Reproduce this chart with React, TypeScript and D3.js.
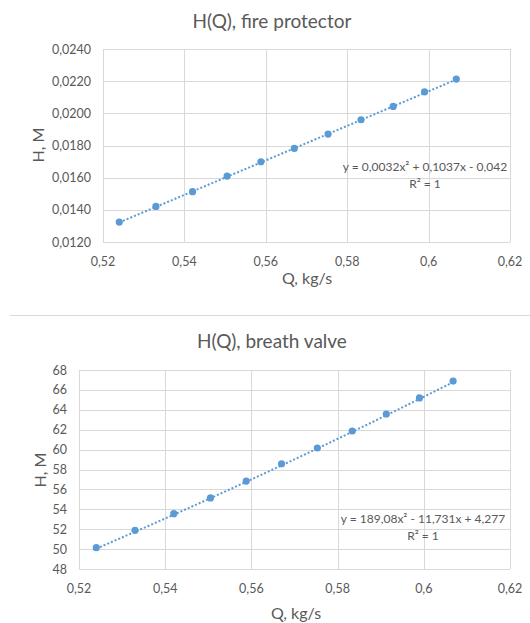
import * as d3 from 'd3'
import { useEffect, useRef } from 'react'

// Flow rate, kg/s (shared by both charts)
const flowRates = [0.524, 0.533, 0.542, 0.5505, 0.5588, 0.567, 0.5753, 0.5834, 0.5913, 0.599, 0.6068]
// Head, m
const fireProtectorHead = [0.01324, 0.01421, 0.01513, 0.0161, 0.01699, 0.01782, 0.01871, 0.0196, 0.02043, 0.02133, 0.02213]
const breathValveHead = [50.14, 51.89, 53.56, 55.14, 56.84, 58.58, 60.16, 61.87, 63.58, 65.19, 66.89]
// polynomial trendline coefficients [a, b, c] for a*x^2 + b*x + c
const fireProtectorFit = [0.0032, 0.1037, -0.042]
const breathValveFit = [189.08, -11.731, 4.277]

const xTicks = [0.52, 0.54, 0.56, 0.58, 0.6, 0.62]
const fireTicks = [0.012, 0.014, 0.016, 0.018, 0.02, 0.022, 0.024]
const breathTicks = [48, 50, 52, 54, 56, 58, 60, 62, 64, 66, 68]

const BLUE = '#5b9bd5'
const GRID = '#d9d9d9'
const TEXT = '#595959'
const FONT = 'Lato, "Open Sans", sans-serif'

interface ChartCfg {
  title: string
  titleY: number
  left: number
  right: number
  top: number
  bottom: number
  heads: number[]
  fit: number[]
  yTicks: number[]
  yFormat: (v: number) => string
  equation: string
  eqX: number
  eqY: number
  xTitleX: number
  xTitleY: number
  yTitleX: number
  yTitleY: number
}

const comma = (s: string) => s.replace('.', ',')

function drawChart(root: d3.Selection<SVGSVGElement, unknown, null, undefined>, c: ChartCfg) {
  const g = root.append('g').attr('font-family', FONT)

  const x = d3.scaleLinear().domain([xTicks[0], xTicks[xTicks.length - 1]]).range([c.left, c.right])
  const y = d3
    .scaleLinear()
    .domain([c.yTicks[0], c.yTicks[c.yTicks.length - 1]])
    .range([c.bottom, c.top])

  // title
  g.append('text')
    .attr('x', 272)
    .attr('y', c.titleY)
    .attr('text-anchor', 'middle')
    .attr('dominant-baseline', 'central')
    .attr('font-size', 19)
    .attr('fill', TEXT)
    .text(c.title)

  // grid
  g.selectAll('.hgrid')
    .data(c.yTicks)
    .enter()
    .append('line')
    .attr('x1', c.left)
    .attr('x2', c.right)
    .attr('y1', (d) => Math.round(y(d)) + 0.5)
    .attr('y2', (d) => Math.round(y(d)) + 0.5)
    .attr('stroke', GRID)
  g.selectAll('.vgrid')
    .data(xTicks)
    .enter()
    .append('line')
    .attr('y1', c.top)
    .attr('y2', c.bottom)
    .attr('x1', (d) => Math.round(x(d)) + 0.5)
    .attr('x2', (d) => Math.round(x(d)) + 0.5)
    .attr('stroke', GRID)

  // tick labels
  g.selectAll('.xl')
    .data(xTicks)
    .enter()
    .append('text')
    .attr('x', (d) => x(d))
    .attr('y', c.bottom + 19)
    .attr('text-anchor', 'middle')
    .attr('dominant-baseline', 'central')
    .attr('font-size', 12.5)
    .attr('fill', TEXT)
    .text((d) => comma(String(d)))
  g.selectAll('.yl')
    .data(c.yTicks)
    .enter()
    .append('text')
    .attr('x', c.left - 12)
    .attr('y', (d) => y(d))
    .attr('text-anchor', 'end')
    .attr('dominant-baseline', 'central')
    .attr('font-size', 12.5)
    .attr('fill', TEXT)
    .text((d) => c.yFormat(d))

  // axis titles
  g.append('text')
    .attr('x', c.xTitleX)
    .attr('y', c.xTitleY)
    .attr('text-anchor', 'middle')
    .attr('dominant-baseline', 'central')
    .attr('font-size', 16)
    .attr('fill', TEXT)
    .text('Q, kg/s')
  g.append('text')
    .attr('transform', `translate(${c.yTitleX},${c.yTitleY}) rotate(-90)`)
    .attr('text-anchor', 'middle')
    .attr('dominant-baseline', 'central')
    .attr('font-size', 16)
    .attr('fill', TEXT)
    .text('H, М')

  // trendline
  const fitted = flowRates.map((q) => ({ q, h: c.fit[0] * q * q + c.fit[1] * q + c.fit[2] }))
  const line = d3
    .line<{ q: number; h: number }>()
    .x((d) => x(d.q))
    .y((d) => y(d.h))
    .curve(d3.curveMonotoneX)
  g.append('path')
    .datum(fitted)
    .attr('d', line)
    .attr('fill', 'none')
    .attr('stroke', BLUE)
    .attr('stroke-width', 2)
    .attr('stroke-dasharray', '2 2')

  // points
  g.selectAll('.pt')
    .data(flowRates)
    .enter()
    .append('circle')
    .attr('cx', (d) => x(d))
    .attr('cy', (d, i) => y(c.heads[i]))
    .attr('r', 3.6)
    .attr('fill', BLUE)

  // equation
  g.append('text')
    .attr('x', c.eqX)
    .attr('y', c.eqY)
    .attr('text-anchor', 'middle')
    .attr('dominant-baseline', 'central')
    .attr('font-size', 12)
    .attr('fill', TEXT)
    .text(c.equation)
  g.append('text')
    .attr('x', c.eqX)
    .attr('y', c.eqY + 17)
    .attr('text-anchor', 'middle')
    .attr('dominant-baseline', 'central')
    .attr('font-size', 12)
    .attr('fill', TEXT)
    .text('R² = 1')
}

export default function App() {
  const svgRef = useRef<SVGSVGElement>(null)

  useEffect(() => {
    if (!svgRef.current) return
    const svg = d3.select(svgRef.current)
    svg.selectAll('*').remove()

    svg.append('rect').attr('width', 530).attr('height', 623).attr('fill', '#fff')

    drawChart(svg, {
      title: 'H(Q), fire protector',
      titleY: 20,
      left: 103,
      right: 510,
      top: 49,
      bottom: 242,
      heads: fireProtectorHead,
      fit: fireProtectorFit,
      yTicks: fireTicks,
      yFormat: (v) => comma(d3.format('.4f')(v)),
      equation: 'y = 0,0032x² + 0,1037x - 0,042',
      eqX: 425,
      eqY: 166,
      xTitleX: 307,
      xTitleY: 277,
      yTitleX: 37,
      yTitleY: 145,
    })

    // separator between the two chart boxes
    svg.append('line')
      .attr('x1', 10)
      .attr('x2', 530)
      .attr('y1', 315.5)
      .attr('y2', 315.5)
      .attr('stroke', GRID)

    drawChart(svg, {
      title: 'H(Q), breath valve',
      titleY: 340,
      left: 79,
      right: 510,
      top: 370,
      bottom: 569,
      heads: breathValveHead,
      fit: breathValveFit,
      yTicks: breathTicks,
      yFormat: (v) => String(v),
      equation: 'y = 189,08x² - 11,731x + 4,277',
      eqX: 423,
      eqY: 518,
      xTitleX: 296,
      xTitleY: 612,
      yTitleX: 39,
      yTitleY: 470,
    })
  }, [])

  return (
    <svg
      ref={svgRef}
      width={530}
      height={623}
      style={{ position: 'absolute', left: 0, top: 0, display: 'block' }}
    />
  )
}
